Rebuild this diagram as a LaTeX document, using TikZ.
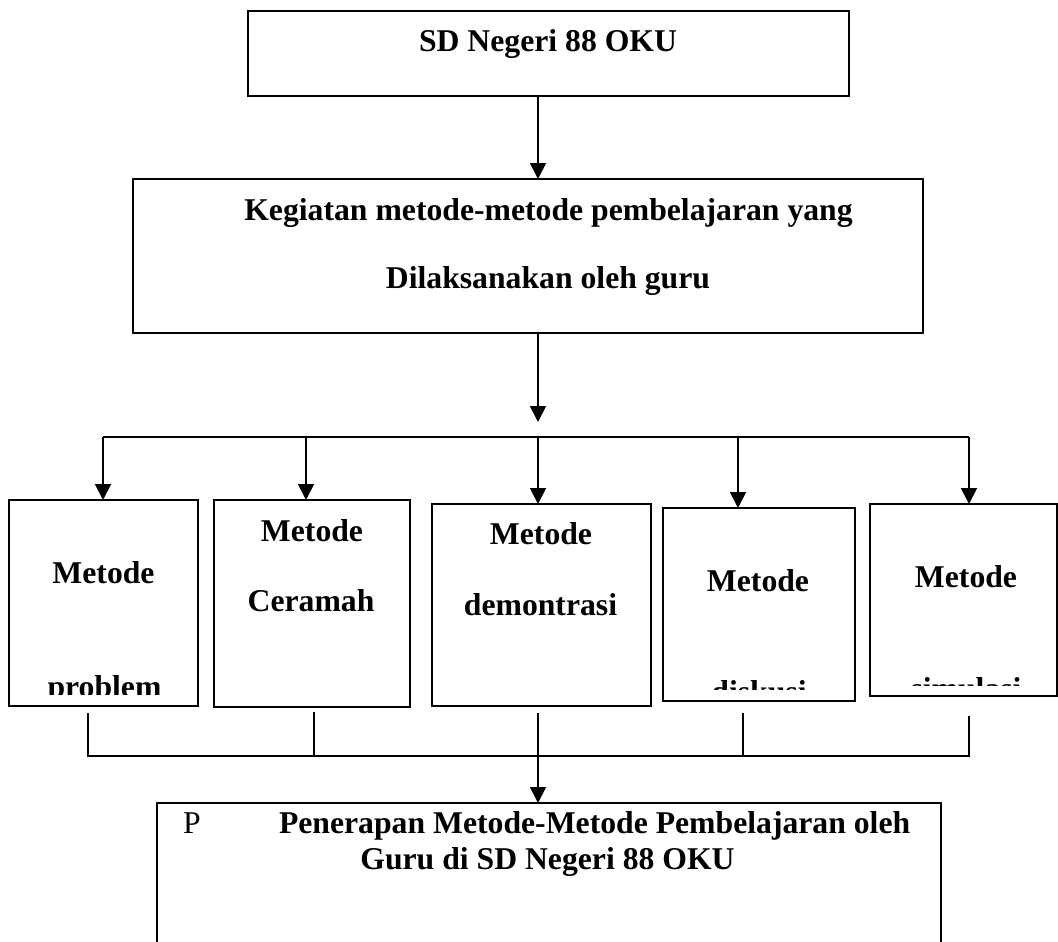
\documentclass[tikz,border=0pt]{standalone}
\usepackage{fontspec}
\setmainfont{Liberation Serif}
\usetikzlibrary{arrows.meta}
\begin{document}
\begin{tikzpicture}[x=1pt,y=-1pt,
  box/.style={draw, line width=1.8pt, inner sep=0pt, outer sep=0pt, rectangle},
  lbl/.style={inner sep=0pt, outer sep=0pt, anchor=base, font=\fontsize{31.7}{38}\selectfont\bfseries},
  arr/.style={line width=1.9pt, -{Triangle[width=16pt,length=16pt]}},
  bus/.style={line width=1.9pt},
  tickline/.style={line width=1.3pt},
]
\useasboundingbox (0,0) rectangle (1058,942);

% boxes
\node[box, minimum width=601pt, minimum height=85pt] (top) at (548.5,53.5) {};
\node[box, minimum width=790pt, minimum height=154pt] (keg) at (528,256) {};
\node[box, minimum width=189pt, minimum height=206pt] (m1) at (103.5,603) {};
\node[box, minimum width=196pt, minimum height=207pt] (m2) at (312,603.5) {};
\node[box, minimum width=219pt, minimum height=202pt] (m3) at (541.5,605) {};
\node[box, minimum width=192pt, minimum height=193pt] (m4) at (759,604.5) {};
\node[box, minimum width=187pt, minimum height=192pt] (m5) at (963.5,600) {};
\node[box, minimum width=784pt, minimum height=167pt] (bot) at (549,886.5) {};

% texts
\node[lbl] (t0) at (548,52) {SD Negeri 88 OKU};
\node[lbl] (t1) at (548.5,220) {Kegiatan metode-metode pembelajaran yang};
\node[lbl] (t2) at (548,288) {Dilaksanakan oleh guru};

\node[lbl] (m1a) at (103.5,583) {Metode};
\begin{scope}
  \clip (9,500) rectangle (198,694);
  \node[lbl] (m1b) at (104.5,697) {problem};
\end{scope}
\node[lbl] (m2a) at (312,541) {Metode};
\node[lbl] (m2b) at (311,611) {Ceramah};
\node[lbl] (m3a) at (541,544) {Metode};
\node[lbl] (m3b) at (540.5,615) {demontrasi};
\node[lbl] (m4a) at (758,591) {Metode};
\begin{scope}
  \clip (663,508) rectangle (855,689);
  \node[lbl] (m4b) at (759,702) {diskusi};
\end{scope}
\node[lbl] (m5a) at (966,587) {Metode};
\begin{scope}
  \clip (870,504) rectangle (1057,685);
  \node[lbl] (m5b) at (966,699) {simulasi};
\end{scope}

\node[lbl, anchor=base west, font=\fontsize{31.7}{38}\selectfont] (p) at (183,833) {P};
\node[lbl, anchor=base west] (b1) at (279,833) {Penerapan Metode-Metode Pembelajaran oleh};
\node[lbl] (b2) at (547.5,869) {Guru di SD Negeri 88 OKU};

% connectors
\coordinate (a0) at (538,96);
\draw[arr] (a0) -- (a0 |- keg.north);
\coordinate (a1) at (538,333);
\coordinate (a1e) at (538,422);
\draw[arr] (a1) -- (a1e);

\coordinate (busL) at (103,437);
\coordinate (busR) at (969,437);
\draw[bus] (busL) -- (busR);
\coordinate (d1) at (103,437);
\coordinate (d2) at (306,437);
\coordinate (d3) at (538,437);
\coordinate (d4) at (738,437);
\coordinate (d5) at (969,437);
\draw[arr] (d1) -- (d1 |- m1.north);
\draw[arr] (d2) -- (d2 |- m2.north);
\draw[arr] (d3) -- (d3 |- m3.north);
\draw[arr] (d4) -- (d4 |- m4.north);
\draw[arr] (d5) -- (d5 |- m5.north);

\coordinate (u1) at (88,713);
\coordinate (u2) at (314,712);
\coordinate (u3) at (538,713);
\coordinate (u4) at (743,713);
\coordinate (u5) at (969,716);
\coordinate (busL2) at (87,756);
\draw[tickline] (u1) -- (u1 |- busL2);
\draw[tickline] (u2) -- (u2 |- busL2);
\draw[tickline] (u3) -- (u3 |- busL2);
\draw[tickline] (u4) -- (u4 |- busL2);
\draw[bus] (u5) |- (busL2);
\coordinate (f) at (538,756);
\draw[arr] (f) -- (f |- bot.north);
\end{tikzpicture}
\end{document}
